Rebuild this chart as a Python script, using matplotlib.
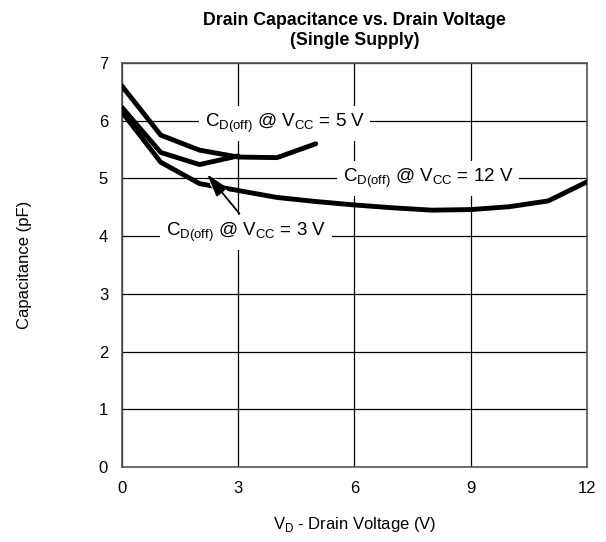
import matplotlib
matplotlib.use('Agg')
import matplotlib.pyplot as plt

plt.rcParams['font.family'] = ['Liberation Sans', 'DejaVu Sans']

# CD(off) vs VD, single supply
vd_12 = [0, 1, 2, 3, 4, 5, 6, 7, 8, 9, 10, 11, 12]
cd_12 = [6.15, 5.28, 4.91, 4.79, 4.67, 4.6, 4.54, 4.49, 4.45, 4.46, 4.51, 4.61, 4.94]
vd_5 = [0, 1, 2, 3, 4, 5]
cd_5 = [6.6, 5.75, 5.49, 5.37, 5.36, 5.6]
vd_3 = [0, 1, 2, 3]
cd_3 = [6.23, 5.45, 5.24, 5.39]

fig = plt.figure(figsize=(6.06, 5.42), dpi=100)
ax = fig.add_axes([0.2013, 0.1384, 0.7673, 0.7454])

ax.plot(vd_12, cd_12, color='black', lw=3.5, solid_capstyle='round', zorder=3)
ax.plot(vd_5, cd_5, color='black', lw=3.5, solid_capstyle='round', zorder=3)
ax.plot(vd_3, cd_3, color='black', lw=3.5, solid_capstyle='round', zorder=3)

ax.set_xlim(0, 12)
ax.set_ylim(0, 7)
ax.set_xticks([0, 3, 6, 9, 12])
ax.set_yticks(range(0, 8))
ax.tick_params(length=0, labelsize=12, pad=10)
ax.grid(True, color='black', lw=0.9)
ax.set_axisbelow(True)
for s in ax.spines.values():
    s.set_color('#555555')
    s.set_linewidth(1.2)

box = dict(facecolor='white', edgecolor='none', pad=4)
fs = 13.5
ax.text(4.2, 5.95, r'C$_{\mathregular{D(off)}}$ @ V$_{\mathregular{CC}}$ = 5 V',
        ha='center', va='center', fontsize=fs, bbox=box, zorder=4)
ax.text(7.9, 5.0, r'C$_{\mathregular{D(off)}}$ @ V$_{\mathregular{CC}}$ = 12 V',
        ha='center', va='center', fontsize=fs, bbox=box, zorder=4)
ax.text(3.2, 4.06, r'C$_{\mathregular{D(off)}}$ @ V$_{\mathregular{CC}}$ = 3 V',
        ha='center', va='center', fontsize=fs, bbox=box, zorder=4)

# white gap under the pointer, then the pointer itself
ax.annotate('', xy=(2.35, 4.95), xytext=(2.85, 4.55),
            arrowprops=dict(arrowstyle='-', color='white', lw=7), zorder=5)
ax.annotate('', xy=(2.2, 5.07), xytext=(3.03, 4.39),
            arrowprops=dict(arrowstyle='-|>,head_length=1.0,head_width=0.3',
                            color='black', lw=1.3, mutation_scale=14,
                            shrinkA=0, shrinkB=0),
            zorder=6)

ax.set_title('Drain Capacitance vs. Drain Voltage\n(Single Supply)',
             fontsize=12.8, fontweight='bold', pad=13, linespacing=1.25)
ax.set_xlabel(r'V$_{\mathregular{D}}$ - Drain Voltage (V)', fontsize=12, labelpad=14)
ax.set_ylabel('Capacitance (pF)', fontsize=12, labelpad=48)

fig.savefig('out.png', dpi=100)
